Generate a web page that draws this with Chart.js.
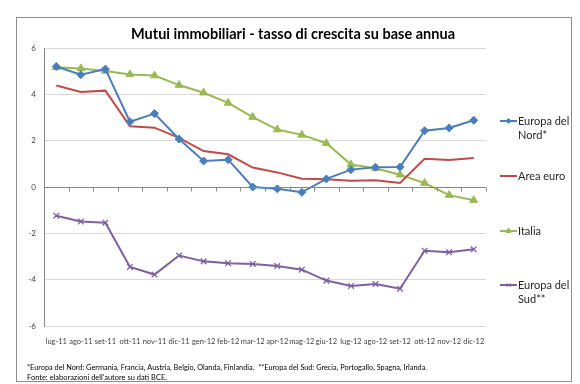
<!DOCTYPE html>
<html>
<head>
<meta charset="utf-8">
<script src="https://cdn.jsdelivr.net/npm/chart.js@4"></script>
<style>
  html, body { margin: 0; padding: 0; background: #fff; }
  #wrap { position: relative; width: 580px; height: 384px; }
</style>
</head>
<body>
<div id="wrap"><canvas id="chart" width="580" height="384"></canvas></div>
<script>
const months = ["lug-11", "ago-11", "set-11", "ott-11", "nov-11", "dic-11", "gen-12", "feb-12", "mar-12",
  "apr-12", "mag-12", "giu-12", "lug-12", "ago-12", "set-12", "ott-12", "nov-12", "dic-12"]

const europaNord = [5.2, 4.85, 5.09, 2.82, 3.17, 2.07, 1.12, 1.18, 0.0, -0.08, -0.23, 0.35, 0.75, 0.85, 0.86, 2.43, 2.55, 2.88]
const areaEuro = [4.38, 4.1, 4.16, 2.62, 2.56, 2.12, 1.55, 1.41, 0.84, 0.63, 0.36, 0.33, 0.27, 0.29, 0.17, 1.22, 1.17, 1.25]
const italia = [5.17, 5.12, 5.01, 4.86, 4.81, 4.4, 4.07, 3.63, 3.02, 2.48, 2.25, 1.89, 0.97, 0.81, 0.53, 0.17, -0.35, -0.57]
const europaSud = [-1.24, -1.49, -1.54, -3.45, -3.78, -2.96, -3.21, -3.29, -3.32, -3.41, -3.57, -4.04, -4.27, -4.19, -4.39, -2.75, -2.82, -2.69]

const yTicks = [-6, -4, -2, 0, 2, 4, 6]

const titleText = "Mutui immobiliari - tasso di crescita su base annua"
const noteLines = [
  "*Europa del Nord: Germania, Francia, Austria, Belgio, Olanda, Finlandia.  **Europa del Sud: Grecia, Portogallo, Spagna, Irlanda.",
  "Fonte: elaborazioni dell'autore su dati BCE."
]

// legend labels, one array per dataset (multi-line)
const legendLines = [["Europa del", "Nord*"], ["Area euro"], ["Italia"], ["Europa del", "Sud**"]]
const legendY = [121, 176, 231, 285]

const font = "Lato, 'Open Sans', sans-serif"

function series(label, data, color, style, radius) {
  return {
    label: label,
    data: data,
    borderColor: color,
    backgroundColor: color,
    borderWidth: 2,
    pointStyle: style,
    pointRadius: radius,
    pointBorderWidth: style === "crossRot" ? 1.3 : 1,
    pointBorderColor: color,
    tension: 0,
  }
}

// frame, title, footnote, zero-line ticks and legend
const decorations = {
  id: "decorations",
  afterDraw(chart) {
    const ctx = chart.ctx
    const x = chart.scales.x
    const y = chart.scales.y
    ctx.save()

    // outer border
    ctx.strokeStyle = "#8c8c8c"
    ctx.lineWidth = 1
    ctx.strokeRect(16.5, 17.5, 555, 364)

    // title
    ctx.fillStyle = "#000"
    ctx.font = "bold 16px " + font
    ctx.textAlign = "center"
    ctx.textBaseline = "middle"
    ctx.fillText(titleText, 293, 34, 324)

    // horizontal axis at zero with tick marks between categories
    const y0 = Math.round(y.getPixelForValue(0)) + 0.5
    ctx.strokeStyle = "#868686"
    ctx.beginPath()
    ctx.moveTo(chart.chartArea.left, y0)
    ctx.lineTo(chart.chartArea.right, y0)
    for (let i = 0; i <= months.length; i++) {
      const px = Math.round(x.getPixelForValue(i - 0.5)) + 0.5
      ctx.moveTo(px, y0)
      ctx.lineTo(px, y0 + 4)
    }
    ctx.stroke()

    // legend
    ctx.font = "11px " + font
    ctx.textAlign = "left"
    chart.data.datasets.forEach((ds, i) => {
      const ly = legendY[i]
      ctx.strokeStyle = ds.borderColor
      ctx.fillStyle = ds.borderColor
      ctx.lineWidth = 2
      ctx.beginPath()
      ctx.moveTo(500, ly)
      ctx.lineTo(517, ly)
      ctx.stroke()
      if (ds.pointStyle) {
        ctx.lineWidth = 1
        Chart.helpers.drawPoint(ctx, {
          pointStyle: ds.pointStyle,
          radius: ds.pointRadius - 1.5,
          borderWidth: 1,
        }, 508.5, ly)
      }
      ctx.fillStyle = "#262626"
      legendLines[i].forEach((t, k) => ctx.fillText(t, 518, ly + k * 14))
    })

    // footnote
    ctx.fillStyle = "#000"
    ctx.font = "8px " + font
    ctx.fillText(noteLines[0], 27, 367, 400)
    ctx.fillText(noteLines[1], 27, 377, 140)
    ctx.restore()
  },
}

new Chart(document.getElementById("chart"), {
  type: "line",
  data: {
    labels: months,
    datasets: [
      series("Europa del Nord*", europaNord, "#4a7ebb", "rectRot", 4),
      series("Area euro", areaEuro, "#be4b48", false, 0),
      series("Italia", italia, "#98b954", "triangle", 4.5),
      series("Europa del Sud**", europaSud, "#7d60a0", "crossRot", 4),
    ],
  },
  options: {
    responsive: false,
    animation: false,
    layout: { padding: { left: 0, right: 94, top: 48, bottom: 38 } },
    plugins: {
      legend: { display: false },
      title: { display: false },
      tooltip: { enabled: false },
    },
    scales: {
      x: {
        offset: true,
        grid: { display: false },
        border: { display: false },
        ticks: {
          color: "#404040",
          font: { size: 7.5, family: font },
          maxRotation: 0,
          autoSkip: false,
          padding: 3,
        },
        afterFit(scale) { scale.height = 20 },
      },
      y: {
        min: -6,
        max: 6,
        afterBuildTicks(scale) { scale.ticks = yTicks.map(v => ({ value: v })) },
        grid: { color: "#d9d9d9", drawTicks: false, lineWidth: 1 },
        border: { display: true, color: "#868686" },
        ticks: {
          color: "#404040",
          font: { size: 8, family: font },
          padding: 8,
        },
        afterFit(scale) { scale.width = 44 },
      },
    },
  },
  plugins: [decorations],
})
</script>
</body>
</html>
